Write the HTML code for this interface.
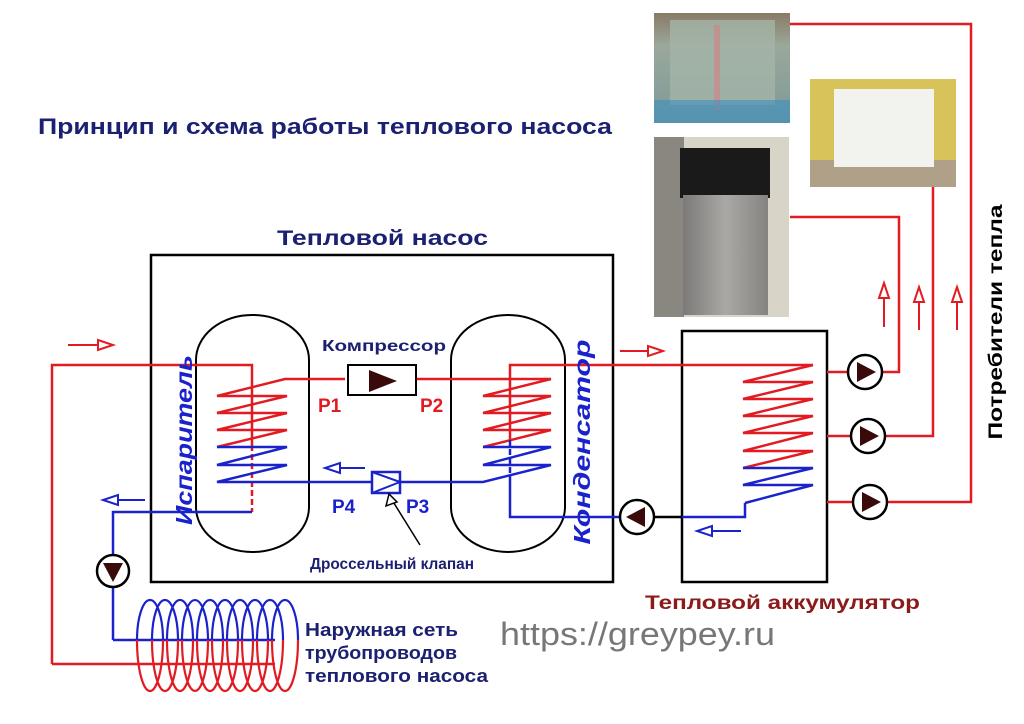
<!DOCTYPE html>
<html><head><meta charset="utf-8"><style>
html,body{margin:0;padding:0;background:#fff;}
svg{display:block;}
text{font-family:"Liberation Sans","DejaVu Sans",sans-serif;}
</style></head><body>
<svg width="1024" height="724" viewBox="0 0 1024 724" xmlns="http://www.w3.org/2000/svg">
<defs>
<linearGradient id="fl" x1="0" y1="0" x2="0" y2="1"><stop offset="0" stop-color="#8a7a66"/><stop offset="0.3" stop-color="#9aa89a"/><stop offset="1" stop-color="#7d9a9a"/></linearGradient>
<linearGradient id="tank" x1="0" y1="0" x2="1" y2="0"><stop offset="0" stop-color="#7c7a78"/><stop offset="0.5" stop-color="#aaa8a4"/><stop offset="1" stop-color="#868480"/></linearGradient>
</defs>
<!-- photos -->
<rect x="654" y="13" width="136" height="110" fill="url(#fl)"/>
<rect x="670" y="20" width="105" height="85" fill="#a4b4a8" opacity="0.8"/>
<rect x="714" y="25" width="6" height="85" fill="#c88" opacity="0.7"/>
<rect x="654" y="100" width="136" height="23" fill="#3a8fc0" opacity="0.6"/>
<rect x="810" y="79" width="146" height="108" fill="#d8c25a"/>
<rect x="810" y="160" width="146" height="27" fill="#b0a088"/>
<rect x="834" y="89" width="100" height="78" fill="#f2f2ee"/>
<rect x="654" y="137" width="135" height="180" fill="#d8d4c8"/>
<rect x="654" y="137" width="30" height="180" fill="#8a8680"/>
<rect x="680" y="148" width="90" height="50" fill="#1a1a1a"/>
<rect x="683" y="195" width="85" height="120" fill="url(#tank)"/>

<!-- titles -->
<text x="38" y="134" font-size="22" font-weight="bold" fill="#1c2070" textLength="574" lengthAdjust="spacingAndGlyphs">Принцип и схема работы теплового насоса</text>
<text x="277" y="245" font-size="21" font-weight="bold" fill="#1c2070" textLength="211" lengthAdjust="spacingAndGlyphs">Тепловой насос</text>

<!-- boxes -->
<rect x="151" y="255" width="462" height="327" fill="none" stroke="#000" stroke-width="2.5"/>
<rect x="682" y="331" width="145" height="251" fill="none" stroke="#000" stroke-width="2.5"/>
<rect x="196" y="315" width="113" height="237" rx="56" ry="45" fill="none" stroke="#000" stroke-width="2"/>
<rect x="451" y="315" width="114" height="237" rx="57" ry="45" fill="none" stroke="#000" stroke-width="2"/>

<g fill="none" stroke-width="2.5">
<polyline points="52,664 52,365 252,365 252,445" stroke="#e21b22"/>
<line x1="252" y1="445" x2="252" y2="512" stroke="#e21b22" stroke-dasharray="6,3"/>
<polyline points="252,512 113,512 113,555" stroke="#1a22cc"/>
<line x1="113" y1="587" x2="113" y2="640" stroke="#1a22cc"/>
<polyline points="52,664 275,664" stroke="#e21b22"/>
<polyline points="113,640 275,640" stroke="#1a22cc"/>
<polyline points="345,379 285,379 217,396 287,396 217,413 287,413 217,430 287,430 217,447" stroke="#e21b22"/>
<polyline points="217,447 287,447 217,465 287,465 217,482 400,482" stroke="#1a22cc"/>
<polyline points="416,379 551,379 483,396 551,396 483,413 551,413 483,430 551,430 483,447" stroke="#e21b22"/>
<polyline points="483,447 551,447 483,465 551,465 483,482 400,482" stroke="#1a22cc"/>
<polyline points="510,440 510,365 813,365" stroke="#e21b22"/>
<line x1="510" y1="440" x2="510" y2="480" stroke="#1a22cc" stroke-dasharray="6,3"/>
<polyline points="510,480 510,517 620,517" stroke="#1a22cc"/>
<line x1="654" y1="517" x2="682" y2="517" stroke="#000"/>
<polyline points="682,517 745,517 745,503" stroke="#1a22cc"/>
<polyline points="813,365 743,382 813,382 743,399 813,399 743,416 813,416 743,433 813,433 743,451 813,451 743,468" stroke="#e21b22"/>
<polyline points="743,468 813,468 743,485 813,485 745,503" stroke="#1a22cc"/>
<polyline points="827,372 848,372" stroke="#e21b22"/>
<polyline points="882,372 899,372 899,217 790,217" stroke="#e21b22"/>
<polyline points="827,436 851,436" stroke="#e21b22"/>
<polyline points="885,436 933,436 933,187" stroke="#e21b22"/>
<polyline points="827,502 853,502" stroke="#e21b22"/>
<polyline points="887,502 971,502 971,24 790,24" stroke="#e21b22"/>
</g>
<rect x="348" y="365" width="68" height="30" fill="#fff" stroke="#000" stroke-width="2"/>
<polygon points="369,370 369,392 397,381" fill="#3a0a0a"/>
<rect x="372" y="472" width="28" height="21" fill="#fff" stroke="#1a22cc" stroke-width="2.5"/>
<line x1="372" y1="493" x2="400" y2="482" stroke="#1a22cc" stroke-width="2"/>
<line x1="372" y1="472" x2="400" y2="482" stroke="#1a22cc" stroke-width="2"/>
<line x1="420" y1="545" x2="392" y2="500" stroke="#000" stroke-width="1.5"/>
<polygon points="389,494 386,506 397,502" fill="#fff" stroke="#000" stroke-width="1.5"/>

<g stroke="#000" stroke-width="2.5" fill="#fff">
<circle cx="865" cy="372" r="17"/><circle cx="868" cy="436" r="17"/><circle cx="870" cy="502" r="17"/>
<circle cx="637" cy="517" r="17"/><circle cx="113" cy="571" r="16"/>
</g>
<g fill="#3a0a0a">
<polygon points="857,362 857,382 876,372"/><polygon points="860,426 860,446 879,436"/><polygon points="862,492 862,512 881,502"/>
<polygon points="645,507 645,527 626,517"/><polygon points="103,563 123,563 113,582"/>
</g>

<g stroke-width="2" fill="#fff">
<line x1="68" y1="345" x2="98" y2="345" stroke="#e21b22"/><polygon points="98,340 98,350 113,345" stroke="#e21b22"/>
<line x1="620" y1="351" x2="648" y2="351" stroke="#e21b22"/><polygon points="648,346 648,356 663,351" stroke="#e21b22"/>
<line x1="365" y1="468" x2="340" y2="468" stroke="#1a22cc"/><polygon points="340,463 340,473 325,468" stroke="#1a22cc"/>
<line x1="145" y1="500" x2="118" y2="500" stroke="#1a22cc"/><polygon points="118,495 118,505 103,500" stroke="#1a22cc"/>
<line x1="741" y1="531" x2="712" y2="531" stroke="#1a22cc"/><polygon points="712,526 712,536 697,531" stroke="#1a22cc"/>
<line x1="884" y1="327" x2="884" y2="298" stroke="#e21b22"/><polygon points="879,298 889,298 884,283" stroke="#e21b22"/>
<line x1="919" y1="330" x2="919" y2="302" stroke="#e21b22"/><polygon points="914,302 924,302 919,287" stroke="#e21b22"/>
<line x1="957" y1="330" x2="957" y2="302" stroke="#e21b22"/><polygon points="952,302 962,302 957,287" stroke="#e21b22"/>
</g>

<!-- ground coil: 10 loops -->
<g fill="none" stroke-width="2.2">
<path stroke="#1a22cc" d="M137,640 A13,40 0 0 1 163,640 M152,640 A13,40 0 0 1 178,640 M167,640 A13,40 0 0 1 193,640 M182,640 A13,40 0 0 1 208,640 M197,640 A13,40 0 0 1 223,640 M212,640 A13,40 0 0 1 238,640 M227,640 A13,40 0 0 1 253,640 M242,640 A13,40 0 0 1 268,640 M257,640 A13,40 0 0 1 283,640 M272,640 A13,40 0 0 1 298,640"/>
<path stroke="#e21b22" d="M137,640 A13,51 0 0 0 163,640 M152,640 A13,51 0 0 0 178,640 M167,640 A13,51 0 0 0 193,640 M182,640 A13,51 0 0 0 208,640 M197,640 A13,51 0 0 0 223,640 M212,640 A13,51 0 0 0 238,640 M227,640 A13,51 0 0 0 253,640 M242,640 A13,51 0 0 0 268,640 M257,640 A13,51 0 0 0 283,640 M272,640 A13,51 0 0 0 298,640"/>
</g>

<text x="322" y="351" font-size="16" font-weight="bold" fill="#1c2070" textLength="124" lengthAdjust="spacingAndGlyphs">Компрессор</text>
<text x="318" y="412" font-size="19" font-weight="bold" fill="#e21b22">P1</text>
<text x="420" y="412" font-size="19" font-weight="bold" fill="#e21b22">P2</text>
<text x="332" y="513" font-size="19" font-weight="bold" fill="#1a22cc">P4</text>
<text x="406" y="513" font-size="19" font-weight="bold" fill="#1a22cc">P3</text>
<text x="310" y="569" font-size="16" font-weight="bold" fill="#1c2070" textLength="164" lengthAdjust="spacingAndGlyphs">Дроссельный клапан</text>
<text transform="translate(192,440) rotate(-90)" font-size="23" font-weight="bold" font-style="italic" fill="#1a22cc" text-anchor="middle" textLength="170" lengthAdjust="spacingAndGlyphs">Испаритель</text>
<text transform="translate(590,442) rotate(-90)" font-size="23" font-weight="bold" font-style="italic" fill="#1a22cc" text-anchor="middle" textLength="205" lengthAdjust="spacingAndGlyphs">Конденсатор</text>
<text transform="translate(1002,322) rotate(-90)" font-size="19" font-weight="bold" fill="#000" text-anchor="middle" textLength="235" lengthAdjust="spacingAndGlyphs">Потребители тепла</text>
<text x="645" y="609" font-size="19" font-weight="bold" fill="#8b1a1a" textLength="275" lengthAdjust="spacingAndGlyphs">Тепловой аккумулятор</text>
<text x="500" y="645" font-size="32" fill="#777" textLength="275" lengthAdjust="spacingAndGlyphs">https://greypey.ru</text>
<text x="305" y="636" font-size="18" font-weight="bold" fill="#1c2070" textLength="153" lengthAdjust="spacingAndGlyphs">Наружная сеть</text>
<text x="305" y="659" font-size="18" font-weight="bold" fill="#1c2070" textLength="152" lengthAdjust="spacingAndGlyphs">трубопроводов</text>
<text x="305" y="682" font-size="18" font-weight="bold" fill="#1c2070" textLength="183" lengthAdjust="spacingAndGlyphs">теплового насоса</text>
</svg>
</body></html>
